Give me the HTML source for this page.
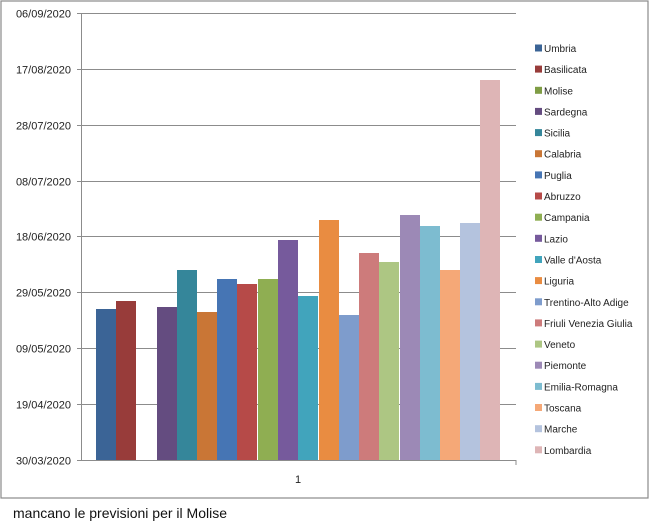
<!DOCTYPE html>
<html><head><meta charset="utf-8"><style>
body{margin:0;background:#fff;}
svg text{font-family:"Liberation Sans",sans-serif;}
</style></head><body>
<svg width="650" height="526" xmlns="http://www.w3.org/2000/svg">
<rect x="1" y="1" width="647" height="497" fill="#fff" stroke="#8a8a8a" stroke-width="1.2"/>
<g stroke="#8c8c8c" stroke-width="1">
<line x1="77" y1="13.5" x2="516" y2="13.5"/>
<line x1="77" y1="69.5" x2="516" y2="69.5"/>
<line x1="77" y1="125.5" x2="516" y2="125.5"/>
<line x1="77" y1="181.5" x2="516" y2="181.5"/>
<line x1="77" y1="236.5" x2="516" y2="236.5"/>
<line x1="77" y1="292.5" x2="516" y2="292.5"/>
<line x1="77" y1="348.5" x2="516" y2="348.5"/>
<line x1="77" y1="404.5" x2="516" y2="404.5"/>
<line x1="77" y1="460.5" x2="516" y2="460.5"/>
<line x1="81.5" y1="13" x2="81.5" y2="461"/>
<line x1="516" y1="460" x2="516" y2="465"/>
</g>
<g font-size="11" fill="#222" text-anchor="end">
<text x="71" y="17.5">06/09/2020</text>
<text x="71" y="73.5">17/08/2020</text>
<text x="71" y="129.5">28/07/2020</text>
<text x="71" y="185.5">08/07/2020</text>
<text x="71" y="240.5">18/06/2020</text>
<text x="71" y="296.5">29/05/2020</text>
<text x="71" y="352.5">09/05/2020</text>
<text x="71" y="408.5">19/04/2020</text>
<text x="71" y="464.5">30/03/2020</text>
</g>
<text x="298" y="483" font-size="11" fill="#222" text-anchor="middle">1</text>
<g>
<rect x="96" y="309" width="20" height="151" fill="#3b6496"/>
<rect x="116" y="301" width="20" height="159" fill="#983c3a"/>
<rect x="157" y="307" width="20" height="153" fill="#644c80"/>
<rect x="177" y="270" width="20" height="190" fill="#35869a"/>
<rect x="197" y="312" width="20" height="148" fill="#c97636"/>
<rect x="217" y="279" width="20" height="181" fill="#4675b4"/>
<rect x="237" y="284" width="20" height="176" fill="#b64a48"/>
<rect x="258" y="279" width="20" height="181" fill="#8fae52"/>
<rect x="278" y="240" width="20" height="220" fill="#765a9c"/>
<rect x="298" y="296" width="20" height="164" fill="#41a4bc"/>
<rect x="319" y="220" width="20" height="240" fill="#e98c41"/>
<rect x="339" y="315" width="20" height="145" fill="#7e9ccc"/>
<rect x="359" y="253" width="20" height="207" fill="#cd7b7b"/>
<rect x="379" y="262" width="20" height="198" fill="#adc683"/>
<rect x="400" y="215" width="20" height="245" fill="#9c89b6"/>
<rect x="420" y="226" width="20" height="234" fill="#7dbcd0"/>
<rect x="440" y="270" width="20" height="190" fill="#f5a877"/>
<rect x="460" y="223" width="20" height="237" fill="#b4c3de"/>
<rect x="480" y="80" width="20" height="380" fill="#deb5b6"/>
</g>
<g font-size="10" fill="#222">
<rect x="535" y="44.5" width="7" height="7" fill="#3b6496"/><text x="544" y="52">Umbria</text>
<rect x="535" y="65.6" width="7" height="7" fill="#983c3a"/><text x="544" y="73.1">Basilicata</text>
<rect x="535" y="86.8" width="7" height="7" fill="#7f9d45"/><text x="544" y="94.3">Molise</text>
<rect x="535" y="107.9" width="7" height="7" fill="#644c80"/><text x="544" y="115.4">Sardegna</text>
<rect x="535" y="129.1" width="7" height="7" fill="#35869a"/><text x="544" y="136.6">Sicilia</text>
<rect x="535" y="150.2" width="7" height="7" fill="#c97636"/><text x="544" y="157.7">Calabria</text>
<rect x="535" y="171.4" width="7" height="7" fill="#4675b4"/><text x="544" y="178.9">Puglia</text>
<rect x="535" y="192.5" width="7" height="7" fill="#b64a48"/><text x="544" y="200">Abruzzo</text>
<rect x="535" y="213.7" width="7" height="7" fill="#8fae52"/><text x="544" y="221.2">Campania</text>
<rect x="535" y="234.8" width="7" height="7" fill="#765a9c"/><text x="544" y="242.3">Lazio</text>
<rect x="535" y="256" width="7" height="7" fill="#41a4bc"/><text x="544" y="263.5">Valle d'Aosta</text>
<rect x="535" y="277.1" width="7" height="7" fill="#e98c41"/><text x="544" y="284.6">Liguria</text>
<rect x="535" y="298.3" width="7" height="7" fill="#7e9ccc"/><text x="544" y="305.8">Trentino-Alto Adige</text>
<rect x="535" y="319.4" width="7" height="7" fill="#cd7b7b"/><text x="544" y="326.9">Friuli Venezia Giulia</text>
<rect x="535" y="340.6" width="7" height="7" fill="#adc683"/><text x="544" y="348.1">Veneto</text>
<rect x="535" y="361.7" width="7" height="7" fill="#9c89b6"/><text x="544" y="369.2">Piemonte</text>
<rect x="535" y="382.9" width="7" height="7" fill="#7dbcd0"/><text x="544" y="390.4">Emilia-Romagna</text>
<rect x="535" y="404" width="7" height="7" fill="#f5a877"/><text x="544" y="411.5">Toscana</text>
<rect x="535" y="425.2" width="7" height="7" fill="#b4c3de"/><text x="544" y="432.7">Marche</text>
<rect x="535" y="446.3" width="7" height="7" fill="#deb5b6"/><text x="544" y="453.8">Lombardia</text>
</g>
<text x="13" y="518" font-size="14" fill="#111">mancano le previsioni per il Molise</text>
</svg>
</body></html>
